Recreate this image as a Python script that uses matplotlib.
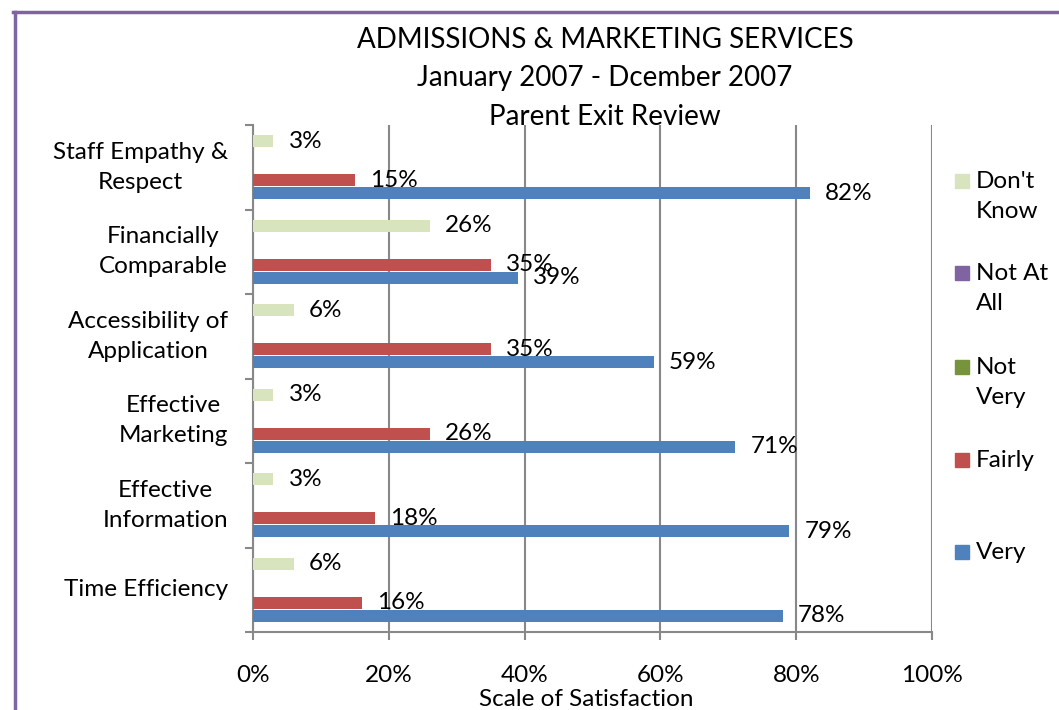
import matplotlib.pyplot as plt
from matplotlib.patches import Rectangle
from matplotlib.lines import Line2D

plt.rcParams['font.family'] = ['Lato', 'DejaVu Sans']

# categories bottom to top
categorias = ["Time Efficiency", "Effective\nInformation", "Effective\nMarketing",
              "Accessibility of\nApplication", "Financially\nComparable",
              "Staff Empathy &\nRespect"]
very = [78, 79, 71, 59, 39, 82]
fairly = [16, 18, 26, 35, 35, 15]
not_very = [0, 0, 0, 0, 0, 0]
not_at_all = [0, 0, 0, 0, 0, 0]
dont_know = [6, 3, 3, 6, 26, 3]

series = [("Very", very, "#4F81BD"),
          ("Fairly", fairly, "#C0504D"),
          ("Not\nVery", not_very, "#77933C"),
          ("Not At\nAll", not_at_all, "#8064A2"),
          ("Don't\nKnow", dont_know, "#D7E4BD")]
xticks = [0, 20, 40, 60, 80, 100]

fs = 17.5

fig = plt.figure(figsize=(10.59, 7.10), dpi=100)
ax = fig.add_axes([253/1059, 78/710, 679/1059, 507/710])

h = 0.154
for i, (nombre, vals, color) in enumerate(series):
    ys = [k + (i - 2) * h for k in range(len(categorias))]
    ax.barh(ys, vals, height=0.145, color=color, zorder=3)
    for y, v in zip(ys, vals):
        if v > 0:
            ax.annotate(f"{v}%", (v, y), xytext=(11, 0), textcoords="offset points",
                        ha="left", va="center", fontsize=fs, zorder=4)

ax.set_xlim(0, 100)
ax.set_ylim(-0.5, len(categorias) - 0.5)
ax.set_xticks(xticks)
ax.set_xticklabels([f"{t}%" for t in xticks], fontsize=fs)
ax.tick_params(axis="x", length=6, width=1.5, color="#888888", pad=18)
ax.set_yticks([k - 0.5 for k in range(len(categorias) + 1)])
ax.set_yticklabels([])
ax.tick_params(axis="y", length=6, width=1.5, color="#888888")
for k, c in enumerate(categorias):
    ax.text(-0.037, k, c, transform=ax.get_yaxis_transform(), ha="right",
            va="center", multialignment="center", fontsize=fs, linespacing=1.55)

ax.grid(axis="x", color="#888888", linewidth=1.5, zorder=0)
for s in ["top", "right"]:
    ax.spines[s].set_visible(False)
for s in ["left", "bottom"]:
    ax.spines[s].set_color("#888888")
    ax.spines[s].set_linewidth(1.5)

fig.text(586/1059, 1 - 699/710, "Scale of Satisfaction", ha="center", va="center", fontsize=fs)

fig.text(605/1059, 1 - 40/710, "ADMISSIONS & MARKETING SERVICES", ha="center", va="center", fontsize=20)
fig.text(605/1059, 1 - 78/710, "January 2007 - Dcember 2007", ha="center", va="center", fontsize=20)
fig.text(605/1059, 1 - 117/710, "Parent Exit Review", ha="center", va="center", fontsize=20)

# legend
leg_y = [181, 273, 367, 460, 552]
for (nombre, vals, color), y in zip(reversed(series), leg_y):
    fig.patches.append(Rectangle((955/1059, 1 - (y + 7)/710), 14/1059, 14/710,
                                 color=color, transform=fig.transFigure))
    fig.text(976/1059, 1 - (y - 10)/710, nombre, ha="left", va="top",
             fontsize=fs, linespacing=1.55)

# purple frame
fig.lines.append(Line2D([14.5/1059, 14.5/1059], [0, 1 - 11.5/710], color="#8064A2", linewidth=2.5,
                        transform=fig.transFigure))
fig.lines.append(Line2D([13/1059, 1], [1 - 11.5/710, 1 - 11.5/710], color="#8064A2", linewidth=2.5,
                        transform=fig.transFigure))

fig.savefig("out.png", dpi=100)
